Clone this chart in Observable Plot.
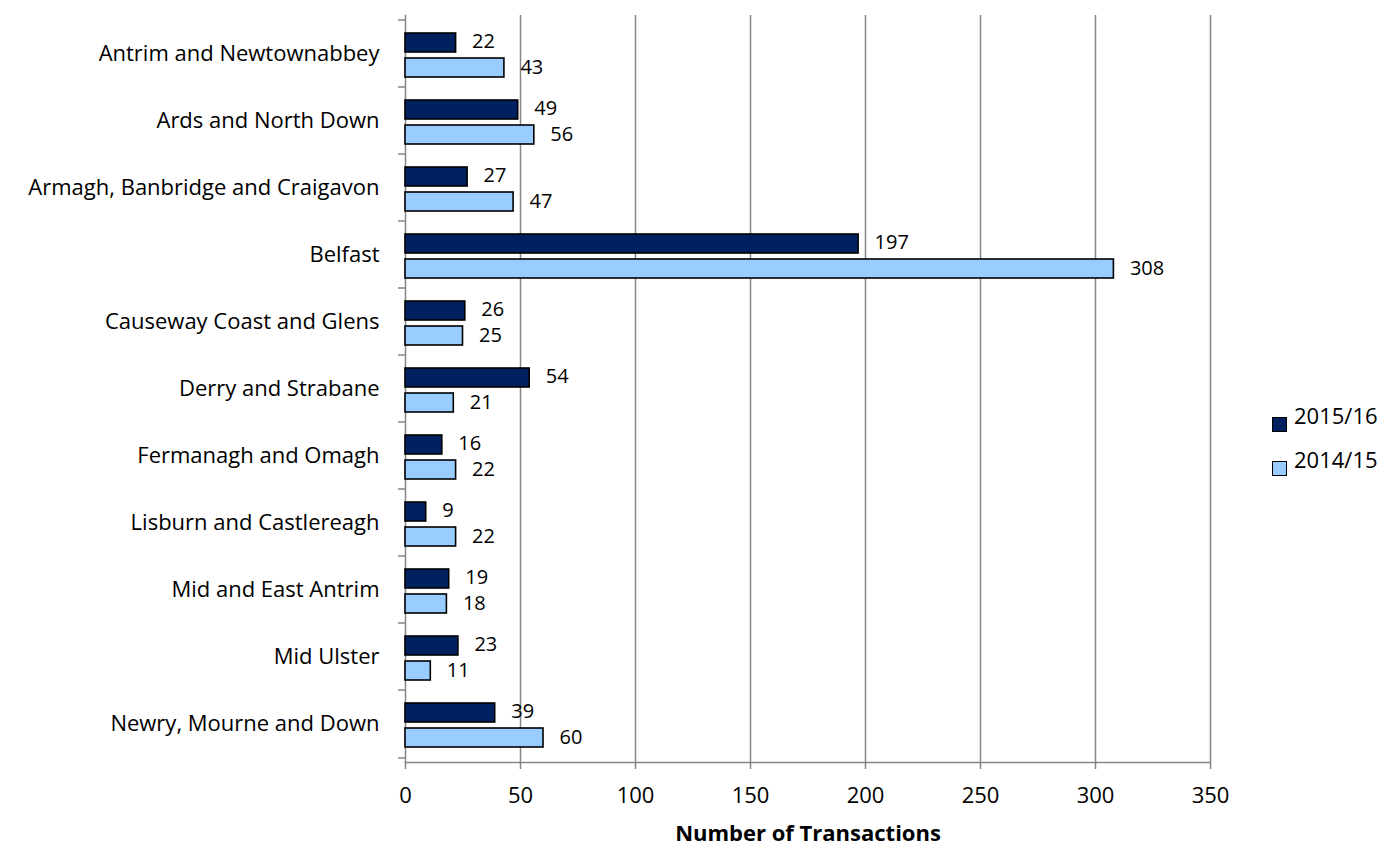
<!DOCTYPE html>
<html>
<head>
<meta charset="utf-8">
<script src="https://cdn.jsdelivr.net/npm/d3@7"></script>
<script src="https://cdn.jsdelivr.net/npm/@observablehq/plot@0.6"></script>
<style>
  html, body { margin: 0; padding: 0; background: #fff; }
  #chart { position: relative; width: 1387px; height: 845px; font-family: "Open Sans", sans-serif; }
  #chart svg [aria-label="x-axis label"] text { font-weight: bold; }
  .legend { position: absolute; left: 0; top: 0; font-size: 22px; line-height: 22px; color: #000; }
  .legend .sw { position: absolute; width: 13px; height: 13px; border: 1px solid #000; }
  .legend .lbl { position: absolute; white-space: nowrap; }
</style>
</head>
<body>
<div id="chart"></div>
<script>
// Council areas, top to bottom
const regions = [
  "Antrim and Newtownabbey",
  "Ards and North Down",
  "Armagh, Banbridge and Craigavon",
  "Belfast",
  "Causeway Coast and Glens",
  "Derry and Strabane",
  "Fermanagh and Omagh",
  "Lisburn and Castlereagh",
  "Mid and East Antrim",
  "Mid Ulster",
  "Newry, Mourne and Down"
];

// Number of transactions per year
const series = ["2015/16", "2014/15"];
const values2015 = [22, 49, 27, 197, 26, 54, 16, 9, 19, 23, 39];
const values2014 = [43, 56, 47, 308, 25, 21, 22, 22, 18, 11, 60];
const xTicks = [0, 50, 100, 150, 200, 250, 300, 350];
const colors = ["#002060", "#99CCFF"];

const rows15 = regions.map((r, i) => ({region: r, year: series[0], value: values2015[i]}));
const rows14 = regions.map((r, i) => ({region: r, year: series[1], value: values2014[i]}));

const font = "Open Sans, sans-serif";
const grey = "#868686";
const fs = 22;

const chart = Plot.plot({
  width: 1387,
  height: 845,
  marginLeft: 405,
  marginRight: 177,
  marginTop: 15,
  marginBottom: 83,
  style: {fontFamily: font, fontSize: fs + "px", color: "#000", background: "#fff", overflow: "visible"},
  x: {domain: [0, 350], ticks: xTicks},
  y: {domain: regions, padding: 0},
  marks: [
    Plot.gridX(xTicks.filter(d => d > 0), {stroke: grey, strokeOpacity: 1, strokeWidth: 1.5}),
    Plot.frame({anchor: "left", stroke: grey, strokeWidth: 1.5}),
    Plot.frame({anchor: "bottom", stroke: grey, strokeWidth: 1.5}),
    // category separators on the left axis
    Plot.ruleY(regions, {y: d => d, dy: -34, x1: 0, x2: 0, insetLeft: -7, stroke: grey, strokeWidth: 1.5}),
    Plot.ruleY(regions.slice(-1), {y: d => d, dy: 34, x1: 0, x2: 0, insetLeft: -7, stroke: grey, strokeWidth: 1.5}),
    Plot.barX(rows15, {y: "region", x: "value", fill: colors[0], stroke: "#000", strokeWidth: 1.6, insetTop: 13, insetBottom: 35}),
    Plot.barX(rows14, {y: "region", x: "value", fill: colors[1], stroke: "#000", strokeWidth: 1.6, insetTop: 38, insetBottom: 10}),
    Plot.text(rows15, {y: "region", x: "value", text: d => String(d.value), dx: 16, dy: -12, textAnchor: "start", fontSize: 20, lineHeight: 1, fill: "#000"}),
    Plot.text(rows14, {y: "region", x: "value", text: d => String(d.value), dx: 16, dy: 14, textAnchor: "start", fontSize: 20, lineHeight: 1, fill: "#000"}),
    Plot.axisY({tickSize: 0, tickPadding: 26, label: null, fontSize: fs}),
    Plot.axisX({ticks: xTicks, tickSize: 7, tickPadding: 18, stroke: grey, strokeWidth: 1.5, fontSize: fs,
      label: "Number of Transactions", labelAnchor: "center", labelArrow: "none", labelOffset: 78})
  ]
});

const root = document.getElementById("chart");
root.appendChild(chart);

// Legend on the right
const legend = document.createElement("div");
legend.className = "legend";
[[series[0], colors[0], 416], [series[1], colors[1], 460]].forEach(([label, c, cy]) => {
  const sw = document.createElement("span");
  sw.className = "sw";
  sw.style.background = c;
  sw.style.left = "1272px";
  sw.style.top = (cy + 1) + "px";
  const t = document.createElement("span");
  t.className = "lbl";
  t.textContent = label;
  t.style.left = "1294px";
  t.style.top = (cy - 12) + "px";
  legend.append(sw, t);
});
root.appendChild(legend);
</script>
</body>
</html>
